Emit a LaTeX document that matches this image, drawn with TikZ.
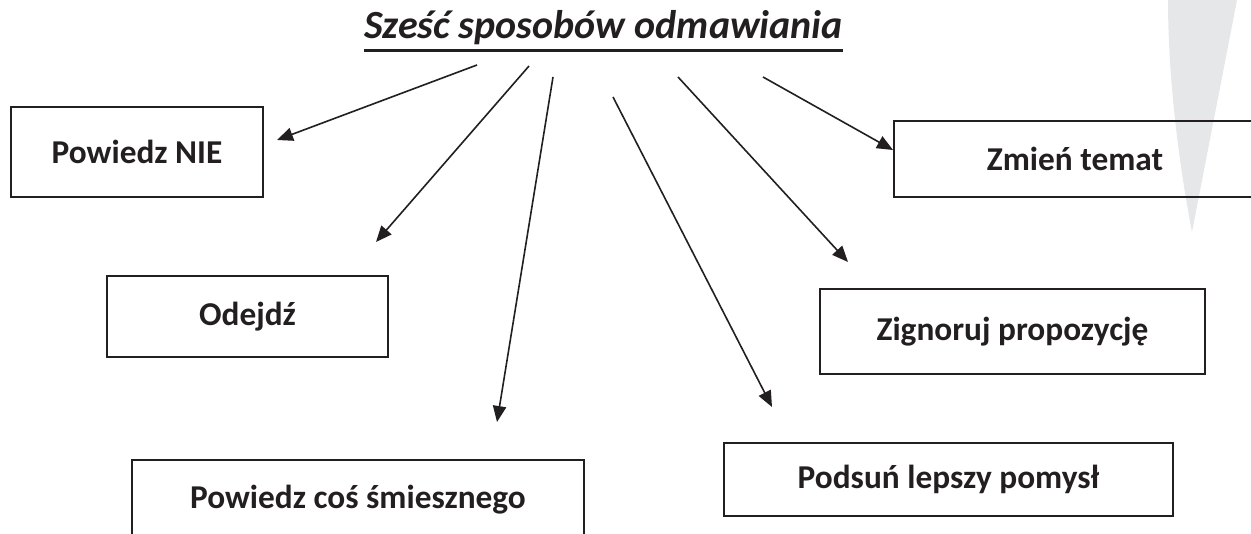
\documentclass[tikz,border=0pt]{standalone}
\usepackage{fontspec}
\setmainfont{Carlito}
\usetikzlibrary{arrows.meta}
\definecolor{ink}{HTML}{231F20}
\definecolor{wedge}{HTML}{E6E7E8}
\tikzset{
  box/.style={draw=ink, line width=1.5pt, text=ink, font=\bfseries\fontsize{25}{30}\selectfont, align=center, inner sep=0pt},
  conn/.style={draw=ink, line width=1.2pt, -{Triangle[length=12pt,width=10pt]}},
}
\begin{document}
\begin{tikzpicture}[x=0.75pt, y=-0.75pt]
\useasboundingbox (0,0) rectangle (1251,534);
\clip (0,0) rectangle (1251,534);
% background wedge
\fill[wedge] (1168,0) .. controls (1168,90) and (1182,180) .. (1192,232) -- (1237,0) -- cycle;
% title
\node[anchor=base, inner sep=0pt, text=ink, font=\bfseries\itshape\fontsize{30}{35}\selectfont] (title) at (603.5,39) {Sześć sposobów odmawiania};
\draw[ink, line width=2.25pt] ([yshift=-8.6pt]title.base west) -- ([yshift=-8.6pt]title.base east);
% boxes
\node[box, minimum width=189pt, minimum height=67.5pt] (nie) at (137,152) {Powiedz NIE};
\node[box, minimum width=210.75pt, minimum height=60.75pt] (odejdz) at (247.5,316.5) {Odejdź};
\node[box, minimum width=339pt, text height=36pt, text depth=30pt, anchor=base] (smiesz) at (358,508) {Powiedz coś śmiesznego};
\node[box, minimum width=271.5pt, minimum height=57pt] (temat) at (1075,159) {Zmień temat};
\node[box, minimum width=288.75pt, minimum height=63.75pt] (zign) at (1012.5,331.5) {Zignoruj propozycję};
\node[box, minimum width=336.75pt, minimum height=54.75pt] (podsun) at (948.5,479.5) {Podsuń lepszy pomysł};
% connector ends
\coordinate (s1) at (477,65);  \coordinate (t1) at (277,140);
\coordinate (s2) at (529,66);  \coordinate (t2) at (376,242);
\coordinate (s3) at (553,77);  \coordinate (t3) at (497,422);
\coordinate (s4) at (613,97);  \coordinate (t4) at (772,407);
\coordinate (s5) at (678,77);  \coordinate (t5) at (848,262);
\coordinate (s6) at (763,77);  \coordinate (t6) at (893,150);
\draw[conn] (s1) -- (t1);
\draw[conn] (s2) -- (t2);
\draw[conn] (s3) -- (t3);
\draw[conn] (s4) -- (t4);
\draw[conn] (s5) -- (t5);
\draw[conn] (s6) -- (t6);
\end{tikzpicture}
\end{document}
